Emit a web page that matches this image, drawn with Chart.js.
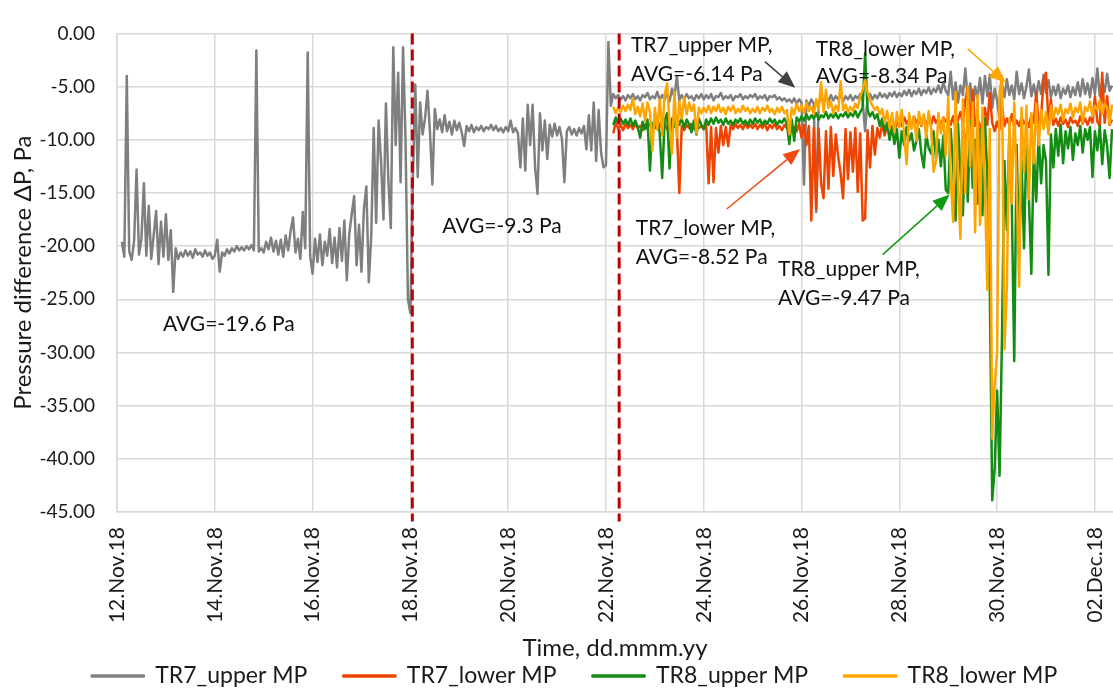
<!DOCTYPE html>
<html>
<head>
<meta charset="utf-8">
<script src="https://cdn.jsdelivr.net/npm/chart.js@4.4.1/dist/chart.umd.min.js"></script>
<style>
  html, body { margin: 0; padding: 0; background: #fff; }
  #wrap { width: 1113px; height: 691px; }
</style>
</head>
<body>
<div id="wrap"><canvas id="pressureChart"></canvas></div>
<script>
// x = days since 12.Nov.18 00:00, one reading every 0.05 day
const seriesNames = ['TR7_upper MP', 'TR7_lower MP', 'TR8_upper MP', 'TR8_lower MP'];
const tickLabels = ['12.Nov.18', '14.Nov.18', '16.Nov.18', '18.Nov.18', '20.Nov.18', '22.Nov.18',
    '24.Nov.18', '26.Nov.18', '28.Nov.18', '30.Nov.18', '02.Dec.18'];
const sampleStep = 0.05;
const tr7UpperStart = 0.1;
const tr8Start = 10.15; // TR7_lower, TR8_upper and TR8_lower start together
const phaseBounds = [6.04, 10.27]; // red dashed lines

const tr7Upper = [
    -19.6,-21.0,-4.0,-20.5,-21.3,-19.5,-12.8,-20.8,-19.3,-14.1,-20.9,-16.2,-21.2,-19.0,-16.7,-21.7,-17.7,-21.0,
    -17.0,-21.3,-18.5,-24.3,-20.2,-21.2,-20.6,-21.0,-20.4,-20.9,-20.5,-21.1,-20.3,-20.8,-20.6,-21.0,-20.4,-20.9,-20.6,-21.2,
    -20.9,-19.4,-22.4,-20.6,-20.9,-20.3,-20.7,-20.2,-20.5,-20.0,-20.4,-20.1,-20.4,-20.0,-20.3,-19.9,-20.4,-1.6,-20.5,-20.2,
    -20.6,-19.6,-20.3,-19.2,-20.5,-19.5,-20.8,-19.4,-21.0,-19.0,-20.4,-18.6,-17.3,-20.6,-19.3,-21.2,-16.8,-20.2,-1.8,-20.9,
    -22.6,-19.3,-21.5,-18.9,-21.8,-19.6,-20.9,-18.4,-21.6,-19.2,-22.0,-18.3,-21.4,-17.6,-23.2,-18.9,-17.0,-15.3,-21.8,-18.0,
    -22.4,-16.5,-14.4,-23.4,-19.0,-8.9,-17.8,-8.2,-12.0,-17.5,-6.6,-13.8,-18.3,-1.3,-10.5,-3.7,-14.0,-1.3,-9.8,-25.0,
    -26.3,-14.0,-4.8,-13.5,-6.5,-9.5,-8.0,-5.4,-9.2,-14.2,-7.1,-9.0,-8.1,-9.3,-7.7,-9.2,-8.3,-9.5,-8.2,-9.1,
    -8.4,-9.3,-10.6,-8.7,-9.2,-8.6,-9.3,-8.8,-9.1,-8.7,-9.2,-8.8,-9.0,-8.6,-9.1,-8.7,-9.2,-8.9,-9.3,-8.8,
    -9.2,-8.2,-9.3,-8.9,-9.4,-12.6,-8.0,-12.9,-6.7,-10.5,-6.7,-12.5,-15.1,-7.5,-11.0,-8.2,-11.8,-8.6,-9.7,-8.5,
    -9.6,-8.8,-9.9,-14.0,-9.2,-8.8,-9.5,-9.0,-9.6,-8.9,-9.4,-8.7,-10.9,-7.7,-11.0,-6.5,-12.0,-7.2,-11.2,-12.6,
    -12.4,-0.8,-6.8,-5.7,-6.1,-5.8,-6.2,-5.9,-6.3,-5.8,-6.1,-5.7,-6.2,-5.9,-6.3,-5.8,-6.0,-5.6,-6.2,-5.9,
    -6.1,-5.5,-6.3,-5.8,-6.2,-5.7,-6.4,-5.2,-6.0,-4.0,-6.3,-5.8,-6.2,-5.7,-6.1,-5.9,-6.3,-5.8,-6.1,-5.7,
    -6.2,-5.8,-6.1,-5.7,-6.3,-5.9,-6.0,-5.6,-6.2,-5.9,-6.1,-5.8,-6.3,-5.9,-6.0,-5.7,-6.2,-5.9,-6.1,-5.8,
    -6.0,-5.7,-6.2,-5.9,-6.1,-5.8,-6.3,-5.9,-6.0,-5.8,-6.2,-6.0,-6.3,-6.1,-6.4,-6.2,-6.5,-6.1,-6.6,-6.2,
    -6.5,-14.2,-6.3,-6.8,-6.2,-6.6,-16.8,-6.4,-6.1,-6.5,-6.0,-6.4,-5.8,-6.3,-5.9,-6.2,-5.8,-6.4,-5.9,-6.2,
    -5.8,-6.3,-5.9,-6.1,-5.7,-6.4,-9.2,-6.0,-5.7,-6.2,-5.8,-6.1,-5.6,-6.0,-5.7,-6.1,-5.6,-5.9,-5.5,-6.0,
    -5.6,-5.9,-5.4,-5.8,-5.3,-5.9,-5.4,-5.7,-5.2,-5.8,-5.3,-5.6,-5.1,-5.7,-5.2,-5.5,-4.9,-5.6,-4.6,-5.4,
    -5.8,-3.6,-6.2,-4.6,-6.5,-4.9,-5.8,-3.3,-6.3,-4.7,-7.2,-5.0,-6.1,-4.2,-6.6,-4.0,-5.9,-3.9,-7.0,-5.2,
    -6.3,-8.0,-4.8,-6.0,-4.3,-5.8,-4.9,-6.2,-3.6,-5.7,-4.7,-6.1,-5.0,-3.4,-5.9,-4.8,-6.0,-4.5,-5.7,-3.9,
    -5.6,-4.4,-6.0,-5.0,-5.8,-4.8,-6.1,-5.2,-5.7,-4.9,-6.0,-5.1,-5.8,-4.6,-5.9,-4.3,-5.7,-4.7,-6.0,-4.2,
    -5.7,-3.3,-5.9,-4.6,-5.5,-3.8,-5.4,-4.9
];

const tr7Lower = [
    -9.4,-8.3,-9.0,-8.6,-9.1,-8.5,-8.9,-8.6,-9.0,-8.5,-8.9,-8.7,-9.1,-8.6,-8.9,-8.5,-8.8,
    -8.6,-9.0,-8.5,-8.9,-8.6,-9.0,-8.7,-8.9,-8.5,-9.0,-15.0,-8.7,-9.1,-8.6,-8.9,-8.5,-9.0,-8.6,-8.9,-8.7,
    -9.0,-8.6,-14.1,-8.8,-14.0,-8.9,-11.2,-8.7,-10.5,-8.8,-10.6,-8.6,-9.0,-8.5,-8.9,-8.6,-9.0,-8.5,-8.9,-8.6,
    -8.9,-8.5,-9.0,-8.6,-8.9,-8.5,-9.1,-8.6,-8.9,-8.5,-9.0,-8.7,-9.1,-8.6,-8.9,-8.5,-9.0,-8.8,-9.2,-8.5,
    -9.8,-8.6,-10.5,-8.7,-17.6,-8.9,-16.5,-9.0,-14.1,-15.5,-9.2,-14.6,-8.8,-13.4,-9.5,-11.6,-13.2,-15.5,-9.0,-13.7,
    -9.3,-13.0,-8.9,-14.9,-9.4,-17.6,-17.4,-9.1,-12.6,-8.7,-11.4,-8.9,-9.8,-8.5,-9.6,-8.6,-8.9,-8.7,-9.0,-8.6,
    -8.2,-8.7,-7.9,-8.5,-8.1,-8.8,-7.8,-8.4,-8.0,-8.7,-7.9,-8.5,-8.1,-8.6,-7.8,-8.4,-8.0,-8.7,-7.9,-8.3,
    -8.0,-8.6,-7.8,-8.9,-8.1,-7.4,-8.5,-6.3,-5.1,-8.2,-5.3,-8.7,-7.9,-9.0,-8.2,-7.0,-8.6,-5.6,-8.4,-9.2,
    -8.3,-9.0,-6.8,-8.7,-8.0,-8.6,-7.6,-8.8,-8.2,-8.7,-7.9,-8.5,-8.1,-8.8,-7.7,-8.4,-5.6,-8.6,-7.8,-4.4,
    -3.7,-8.4,-6.2,-8.6,-8.0,-8.7,-7.9,-8.5,-8.1,-8.8,-7.9,-8.4,-8.2,-8.7,-7.8,-8.5,-8.0,-8.6,-7.9,-8.4,
    -5.9,-8.3,-8.7,-3.7,-8.4,-5.9,-8.6,-8.1
];

const tr8Upper = [
    -8.6,-7.9,-8.4,-8.0,-8.5,-8.1,-8.6,-8.0,-8.7,-8.2,-8.8,-9.8,-8.3,-9.0,-8.1,-12.9,-8.4,
    -8.9,-7.9,-9.4,-13.6,-8.2,-7.5,-12.7,-8.0,-8.8,-7.8,-8.6,-8.0,-8.9,-8.1,-8.5,-9.3,-8.2,-9.5,-8.0,-8.6,
    -9.0,-8.1,-8.6,-8.0,-8.5,-7.9,-8.4,-8.1,-8.6,-8.0,-8.5,-8.2,-8.6,-8.1,-8.4,-8.0,-8.5,-8.2,-8.6,-8.1,
    -8.5,-8.0,-8.4,-8.1,-8.6,-8.2,-8.5,-8.0,-8.4,-8.1,-8.6,-8.2,-8.4,-8.0,-8.5,-10.4,-8.1,-10.1,-7.9,-8.3,
    -7.8,-8.2,-7.6,-8.1,-7.7,-8.0,-7.5,-8.1,-7.7,-7.9,-7.4,-8.0,-7.6,-7.9,-7.5,-8.0,-7.6,-7.8,-7.4,-7.9,
    -7.5,-7.8,-7.3,-7.9,-7.4,-7.0,-1.9,-7.2,-7.8,-7.4,-8.0,-7.6,-8.7,-8.0,-9.2,-8.4,-10.0,-8.8,-10.4,-9.0,
    -11.7,-9.2,-10.5,-8.8,-10.1,-9.4,-11.0,-10.1,-9.0,-11.3,-12.6,-9.5,-10.8,-11.3,-9.2,-11.8,-10.0,-12.5,-9.6,-14.7,
    -15.0,-9.0,-12.5,-17.6,-8.5,-13.0,-17.1,-9.5,-15.8,-8.2,-14.5,-10.0,-16.0,-9.0,-17.1,-8.0,-13.5,-24.0,-43.9,-40.9,
    -33.6,-41.6,-28.4,-12.0,-18.5,-9.5,-16.0,-30.8,-10.5,-21.1,-12.0,-20.2,-10.0,-15.5,-22.6,-11.0,-15.8,-9.5,-14.1,-10.5,
    -12.0,-22.7,-9.5,-12.6,-9.0,-11.5,-8.6,-12.2,-9.2,-10.8,-8.8,-11.9,-9.4,-10.5,-8.7,-11.2,-9.0,-10.0,-8.8,-13.5,
    -9.2,-11.0,-8.7,-12.3,-9.1,-10.6,-13.6,-9.0
];

const tr8Lower = [
    -6.9,-7.5,-7.0,-7.4,-6.8,-7.3,-6.7,-7.2,-6.1,-7.6,-6.9,-7.8,-6.6,-8.2,-6.5,-7.4,-11.0,
    -7.0,-9.0,-6.2,-9.6,-5.8,-4.7,-8.5,-11.3,-5.5,-9.8,-6.4,-8.0,-6.0,-7.6,-6.5,-7.3,-6.7,-9.4,-7.0,-7.5,
    -7.0,-7.4,-6.8,-7.5,-6.9,-7.3,-6.7,-7.4,-7.0,-7.6,-6.9,-7.3,-6.8,-7.5,-7.1,-7.4,-6.8,-7.3,-7.0,-7.5,
    -7.1,-7.4,-6.9,-7.5,-7.0,-7.3,-6.8,-7.4,-7.1,-7.6,-7.0,-7.4,-6.9,-7.5,-7.2,-9.5,-7.0,-7.6,-6.6,-7.3,
    -6.8,-7.5,-6.5,-7.3,-6.9,-7.6,-6.2,-7.2,-4.6,-7.4,-5.3,-7.0,-6.4,-7.5,-6.8,-7.3,-4.5,-7.2,-6.7,-7.4,
    -6.9,-7.3,-6.6,-7.0,-5.9,-5.3,-4.4,-5.5,-6.3,-6.8,-7.2,-6.9,-7.6,-7.1,-8.4,-7.3,-8.9,-7.5,-9.3,-7.4,
    -8.8,-7.2,-9.6,-12.3,-7.5,-9.0,-7.8,-10.1,-7.4,-8.6,-7.6,-9.8,-7.3,-8.9,-13.0,-12.0,-7.5,-9.4,-8.0,-11.5,
    -6.0,-13.5,-17.7,-5.5,-14.0,-19.3,-6.2,-15.0,-5.0,-12.5,-6.5,-18.7,-5.8,-18.0,-7.0,-14.5,-24.1,-9.0,-38.1,-33.0,
    -30.0,-5.5,-4.0,-29.7,-23.8,-8.0,-16.0,-6.5,-14.5,-23.8,-7.0,-13.0,-6.8,-15.6,-7.5,-12.2,-6.6,-10.5,-7.2,-9.0,
    -7.4,-9.5,-6.8,-8.0,-7.0,-7.6,-6.7,-8.2,-7.1,-7.5,-6.6,-7.9,-7.0,-7.4,-6.5,-8.4,-6.9,-7.3,-6.4,-7.8,
    -6.8,-7.2,-6.3,-7.6,-6.6,-7.0,-8.5,-6.7
];

const seriesColors = ['#7f7f7f', '#ee4400', '#138c13', '#ffa500'];

// text labels and arrows, anchored in data units (days, Pa)
const notes = [
    { text: 'AVG=-19.6 Pa', x: 0.94, y: -27.3 },
    { text: 'AVG=-9.3 Pa', x: 6.65, y: -18.1 },
    { text: 'TR7_upper MP,', x: 10.51, y: -1.1 },
    { text: 'AVG=-6.14 Pa', x: 10.51, y: -3.85 },
    { text: 'TR8_lower MP,', x: 14.29, y: -1.5 },
    { text: 'AVG=-8.34 Pa', x: 14.29, y: -4.0 },
    { text: 'TR7_lower MP,', x: 10.61, y: -18.35 },
    { text: 'AVG=-8.52 Pa', x: 10.61, y: -21.0 },
    { text: 'TR8_upper MP,', x: 13.52, y: -22.2 },
    { text: 'AVG=-9.47 Pa', x: 13.52, y: -24.9 }
];
const arrows = [
    { from: [13.25, -2.65], to: [13.87, -5.11], color: '#404040' },
    { from: [12.47, -16.51], to: [13.97, -10.86], color: '#f04a10' },
    { from: [15.66, -20.8], to: [17.03, -15.15], color: '#119a11' },
    { from: [17.40, -1.46], to: [18.18, -4.65], color: '#ffa500' }
];

function toPoints(start, values) {
    return values.map((v, i) => ({ x: Math.round((start + i * sampleStep) * 100) / 100, y: v }));
}

function lineSet(idx, start, values) {
    return {
        label: seriesNames[idx],
        data: toPoints(start, values),
        borderColor: seriesColors[idx],
        backgroundColor: seriesColors[idx],
        borderWidth: 2.5,
        pointRadius: 0,
        borderJoinStyle: 'round',
        order: 4 - idx
    };
}

function boundSet(day) {
    return {
        label: 'bound',
        data: [{ x: day, y: 0 }, { x: day, y: -45.9 }],
        borderColor: '#c00000',
        borderWidth: 3,
        borderDash: [11, 5],
        pointRadius: 0,
        clip: false,
        order: 0
    };
}

function drawArrow(ctx, x1, y1, x2, y2, color) {
    const a = Math.atan2(y2 - y1, x2 - x1);
    const len = 17, half = 7;
    const bx = x2 - len * Math.cos(a), by = y2 - len * Math.sin(a);
    ctx.strokeStyle = color;
    ctx.fillStyle = color;
    ctx.lineWidth = 1.5;
    ctx.beginPath();
    ctx.moveTo(x1, y1);
    ctx.lineTo(bx, by);
    ctx.stroke();
    ctx.beginPath();
    ctx.moveTo(x2, y2);
    ctx.lineTo(bx + half * Math.sin(a), by - half * Math.cos(a));
    ctx.lineTo(bx - half * Math.sin(a), by + half * Math.cos(a));
    ctx.closePath();
    ctx.fill();
}

const notesPlugin = {
    id: 'notes',
    afterLayout(chart) {
        // legend goes under the axis title, a bit right of centre like the original
        const lg = chart.legend;
        const pad = lg.options.labels.padding;
        lg.top = 676 - pad - lg.options.labels.font.size / 2;
        lg.bottom = 691;
        lg.height = lg.bottom - lg.top;
        lg.left += 18;
        lg.right += 18;
    },
    afterDatasetsDraw(chart) {
        const { ctx, scales: { x, y } } = chart;
        ctx.save();
        ctx.font = '21px Lato';
        ctx.fillStyle = '#111';
        ctx.textBaseline = 'middle';
        ctx.textAlign = 'left';
        notes.forEach(n => ctx.fillText(n.text, x.getPixelForValue(n.x), y.getPixelForValue(n.y)));
        arrows.forEach(a => drawArrow(ctx,
            x.getPixelForValue(a.from[0]), y.getPixelForValue(a.from[1]),
            x.getPixelForValue(a.to[0]), y.getPixelForValue(a.to[1]), a.color));
        ctx.restore();
    }
};

Chart.defaults.font.family = 'Lato';
Chart.defaults.color = '#1a1a1a';

const ctx = document.getElementById('pressureChart').getContext('2d');
const pressureChart = new Chart(ctx, {
    type: 'line',
    data: {
        datasets: [
            lineSet(0, tr7UpperStart, tr7Upper),
            lineSet(1, tr8Start, tr7Lower),
            lineSet(2, tr8Start, tr8Upper),
            lineSet(3, tr8Start, tr8Lower),
            boundSet(phaseBounds[0]),
            boundSet(phaseBounds[1])
        ]
    },
    options: {
        responsive: true,
        maintainAspectRatio: false,
        animation: false,
        layout: { padding: { top: 19, right: 0, bottom: 0, left: 0 } },
        scales: {
            x: {
                type: 'linear',
                min: 0,
                max: 20.37,
                grid: { color: '#d9d9d9', lineWidth: 1.5, drawTicks: false },
                border: { color: '#d9d9d9', width: 1.5 },
                ticks: {
                    stepSize: 2,
                    includeBounds: false,
                    autoSkip: false,
                    minRotation: 90,
                    maxRotation: 90,
                    padding: 15,
                    font: { size: 21 },
                    callback: v => tickLabels[Math.round(v / 2)]
                },
                title: {
                    display: true,
                    text: 'Time, dd.mmm.yy',
                    font: { size: 24 },
                    padding: { top: 0, bottom: 18.6 }
                },
                afterFit: s => { s.height = 169; s.paddingRight = 0; s.paddingLeft = 0; }
            },
            y: {
                min: -45,
                max: 0,
                grid: { color: '#d9d9d9', lineWidth: 1.5, drawTicks: false },
                border: { color: '#d9d9d9', width: 1.5 },
                ticks: {
                    stepSize: 5,
                    padding: 22,
                    font: { size: 19 },
                    callback: v => v.toFixed(2)
                },
                title: {
                    display: true,
                    text: 'Pressure difference ΔP, Pa',
                    font: { size: 24 },
                    padding: { top: 9, bottom: 0 }
                },
                afterFit: s => { s.width = 117; }
            }
        },
        plugins: {
            legend: {
                position: 'bottom',
                maxHeight: 10,
                labels: {
                    boxWidth: 52,
                    boxHeight: 1,
                    padding: 36,
                    font: { size: 23 },
                    filter: item => item.datasetIndex < 4,
                    sort: (a, b) => a.datasetIndex - b.datasetIndex
                }
            },
            tooltip: { enabled: false }
        }
    },
    plugins: [notesPlugin]
});
</script>
</body>
</html>
